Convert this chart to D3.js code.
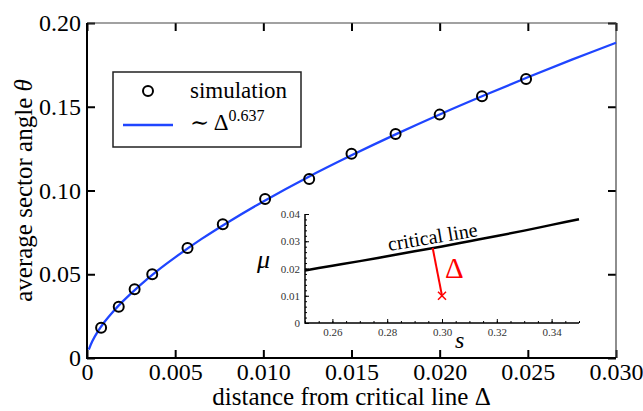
<!DOCTYPE html>
<html>
<head>
<meta charset="utf-8">
<script src="https://cdn.jsdelivr.net/npm/d3@7"></script>
<style>
	body { margin: 0; background: #fff; }
	svg text { font-family: "Liberation Serif", "Times New Roman", Times, Tinos, "Nimbus Roman", "Noto Serif", "DejaVu Serif", FreeSerif, serif; }
</style>
</head>
<body>
<div id="chart"></div>
<script>
// simulation points
var simDelta = [0.0008, 0.0018, 0.0027, 0.0037, 0.0057, 0.0077, 0.0101, 0.0126, 0.0150, 0.0175, 0.0200, 0.0224, 0.0249],
	simTheta = [0.0181, 0.0306, 0.0410, 0.0500, 0.0657, 0.0798, 0.0949, 0.1069, 0.1220, 0.1337, 0.1453, 0.1563, 0.1665];

// fitted curve ~ Delta^0.637
var fitDelta = [0.0001, 0.0003, 0.0006, 0.001, 0.0015, 0.002, 0.003, 0.004, 0.005, 0.0065, 0.008, 0.010, 0.0125, 0.015, 0.0175, 0.020, 0.0225, 0.025, 0.0275, 0.030],
	fitTheta = [0.0050, 0.0100, 0.0156, 0.0216, 0.0279, 0.0335, 0.0434, 0.0522, 0.0601, 0.0711, 0.0811, 0.0935, 0.1078, 0.1210, 0.1335, 0.1454, 0.1567, 0.1676, 0.1781, 0.1882];

var xTicks = [0, 0.005, 0.010, 0.015, 0.020, 0.025, 0.030],
	xTickLabels = ["0", "0.005", "0.010", "0.015", "0.020", "0.025", "0.030"],
	yTicks = [0, 0.05, 0.10, 0.15, 0.20],
	yTickLabels = ["0", "0.05", "0.10", "0.15", "0.20"];

// inset: critical line in (s, mu)
var critS = [0.25, 0.26, 0.27, 0.28, 0.29, 0.30, 0.31, 0.32, 0.33, 0.34, 0.35],
	critMu = [0.0193, 0.0210, 0.0227, 0.0245, 0.0263, 0.0281, 0.0300, 0.0319, 0.0339, 0.0360, 0.0381];
var deltaS = [0.2966, 0.30],
	deltaMu = [0.0275, 0.01];

var insetXTicks = [0.26, 0.28, 0.30, 0.32, 0.34],
	insetXTickLabels = ["0.26", "0.28", "0.30", "0.32", "0.34"],
	insetYTicks = [0, 0.01, 0.02, 0.03, 0.04],
	insetYTickLabels = ["0", "0.01", "0.02", "0.03", "0.04"];

var chartWidth = 643,
	chartHeight = 411,
	blue = "#1f45ff",
	serif = "'Liberation Serif', 'Times New Roman', Times, Tinos, 'Nimbus Roman', 'Noto Serif', 'DejaVu Serif', FreeSerif, serif";

var svg = d3.select("#chart")
	.append("svg")
	.attr("width", chartWidth)
	.attr("height", chartHeight)
	.attr("font-family", serif);

var x = d3.scaleLinear().domain([0, 0.03]).range([87, 616]),
	y = d3.scaleLinear().domain([0, 0.20]).range([358, 23]);

function styleAxis(g, fontSize, color) {
	g.attr("font-family", serif);
	g.select(".domain").remove();
	g.selectAll(".tick line").attr("stroke", "#000").attr("stroke-width", 2);
	g.selectAll(".tick text")
		.attr("fill", color)
		.style("font-size", fontSize + "px")
		.style("font-family", serif);
}

// main axes
svg.append("g")
	.attr("transform", "translate(0,358)")
	.call(d3.axisBottom(x).tickValues(xTicks).tickFormat(function(d, i) { return xTickLabels[i]; })
		.tickSizeInner(-8).tickSizeOuter(0).tickPadding(5))
	.call(styleAxis, 24, "#000");
svg.append("g")
	.attr("transform", "translate(87,0)")
	.call(d3.axisLeft(y).tickValues(yTicks).tickFormat(function(d, i) { return yTickLabels[i]; })
		.tickSizeInner(-8).tickSizeOuter(0).tickPadding(6))
	.call(styleAxis, 24, "#000");
svg.append("g")
	.attr("transform", "translate(0,23)")
	.call(d3.axisTop(x).tickValues(xTicks).tickFormat("").tickSizeInner(-8).tickSizeOuter(0))
	.call(styleAxis, 24, "#000");
svg.append("g")
	.attr("transform", "translate(616,0)")
	.call(d3.axisRight(y).tickValues(yTicks).tickFormat("").tickSizeInner(-8).tickSizeOuter(0))
	.call(styleAxis, 24, "#000");

// spines
svg.append("path")
	.attr("d", "M" + x(0) + "," + y(0.2) + "H" + x(0.03) + "V" + y(0))
	.attr("fill", "none").attr("stroke", "#444").attr("stroke-width", 1.2);
svg.append("path")
	.attr("d", "M" + x(0) + "," + y(0.2) + "V" + y(0) + "H" + x(0.03))
	.attr("fill", "none").attr("stroke", "#000").attr("stroke-width", 2);

// fit curve
var fitLine = d3.line()
	.x(function(d, i) { return x(fitDelta[i]); })
	.y(function(d, i) { return y(fitTheta[i]); })
	.curve(d3.curveCatmullRom);
svg.append("path")
	.datum(fitDelta)
	.attr("d", fitLine)
	.attr("fill", "none")
	.attr("stroke", blue)
	.attr("stroke-width", 2.3);

// simulation circles
svg.append("g").selectAll("circle")
	.data(simDelta)
	.enter()
	.append("circle")
	.attr("cx", function(d) { return x(d); })
	.attr("cy", function(d, i) { return y(simTheta[i]); })
	.attr("r", 5)
	.attr("fill", "none")
	.attr("stroke", "#000")
	.attr("stroke-width", 2);

// axis labels
svg.append("text")
	.attr("x", 351.5)
	.attr("y", 405)
	.attr("text-anchor", "middle")
	.style("font-size", "25px")
	.text("distance from critical line \u0394");
var yLabel = svg.append("text")
	.attr("transform", "translate(32,190.5) rotate(-90)")
	.attr("text-anchor", "middle")
	.style("font-size", "25px");
yLabel.append("tspan").text("average sector angle ");
yLabel.append("tspan").style("font-style", "italic").text("\u03b8");

// legend
var legend = svg.append("g");
legend.append("rect")
	.attr("x", 113).attr("y", 72)
	.attr("width", 188).attr("height", 75)
	.attr("fill", "#fff")
	.attr("stroke", "#222")
	.attr("stroke-width", 1.5);
legend.append("circle")
	.attr("cx", 148).attr("cy", 91).attr("r", 5)
	.attr("fill", "none").attr("stroke", "#000").attr("stroke-width", 2);
legend.append("line")
	.attr("x1", 123).attr("x2", 173)
	.attr("y1", 125).attr("y2", 125)
	.attr("stroke", blue).attr("stroke-width", 2.3);
legend.append("text")
	.attr("x", 190).attr("y", 98)
	.style("font-size", "23px")
	.text("simulation");
var fitLabel = legend.append("text")
	.attr("x", 190).attr("y", 130)
	.style("font-size", "23px");
fitLabel.append("tspan").text("\u223c \u0394");
fitLabel.append("tspan")
	.attr("dy", -9)
	.style("font-size", "16px")
	.text("0.637");

// inset
var xi = d3.scaleLinear().domain([0.25, 0.35]).range([305, 579]),
	yi = d3.scaleLinear().domain([0, 0.04]).range([323, 214]);
var inset = svg.append("g");

function styleInsetAxis(g) {
	g.attr("font-family", serif);
	g.select(".domain").remove();
	g.selectAll(".tick line").attr("stroke", "#000").attr("stroke-width", 1);
	g.selectAll(".tick text")
		.attr("fill", "#333")
		.style("font-size", "11px")
		.style("font-family", serif);
}

inset.append("g")
	.attr("transform", "translate(0,323)")
	.call(d3.axisBottom(xi).tickValues(xi.ticks(20)).tickFormat("").tickSizeInner(-2).tickSizeOuter(0))
	.call(styleInsetAxis);
inset.append("g")
	.attr("transform", "translate(0,323)")
	.call(d3.axisBottom(xi).tickValues(insetXTicks).tickFormat(function(d, i) { return insetXTickLabels[i]; })
		.tickSizeInner(-4).tickSizeOuter(0).tickPadding(5))
	.call(styleInsetAxis);
inset.append("g")
	.attr("transform", "translate(305,0)")
	.call(d3.axisLeft(yi).tickValues(yi.ticks(20)).tickFormat("").tickSizeInner(-2).tickSizeOuter(0))
	.call(styleInsetAxis);
inset.append("g")
	.attr("transform", "translate(305,0)")
	.call(d3.axisLeft(yi).tickValues(insetYTicks).tickFormat(function(d, i) { return insetYTickLabels[i]; })
		.tickSizeInner(-4).tickSizeOuter(0).tickPadding(5))
	.call(styleInsetAxis);
inset.append("path")
	.attr("d", "M" + xi(0.25) + "," + yi(0.04) + "V" + yi(0) + "H" + xi(0.35))
	.attr("fill", "none").attr("stroke", "#000").attr("stroke-width", 1.5);

var critLine = d3.line()
	.x(function(d, i) { return xi(critS[i]); })
	.y(function(d, i) { return yi(critMu[i]); })
	.curve(d3.curveMonotoneX);
inset.append("path")
	.datum(critS)
	.attr("d", critLine)
	.attr("fill", "none")
	.attr("stroke", "#000")
	.attr("stroke-width", 2.5);

inset.append("line")
	.attr("x1", xi(deltaS[0])).attr("y1", yi(deltaMu[0]))
	.attr("x2", xi(deltaS[1])).attr("y2", yi(deltaMu[1]))
	.attr("stroke", "#ff0000")
	.attr("stroke-width", 2);
var mx = xi(deltaS[1]), my = yi(deltaMu[1]);
inset.append("path")
	.attr("d", "M" + (mx - 4) + "," + (my - 4) + "L" + (mx + 4) + "," + (my + 4) +
		"M" + (mx - 4) + "," + (my + 4) + "L" + (mx + 4) + "," + (my - 4))
	.attr("stroke", "#ff0000")
	.attr("stroke-width", 1.5);

inset.append("text")
	.attr("x", 445).attr("y", 278)
	.attr("fill", "#ff0000")
	.style("font-size", "29px")
	.text("\u0394");
inset.append("text")
	.attr("transform", "translate(389,251) rotate(-9.5)")
	.style("font-size", "20px")
	.text("critical line");
inset.append("text")
	.attr("x", 257).attr("y", 268)
	.style("font-size", "26px")
	.style("font-style", "italic")
	.text("\u03bc");
inset.append("text")
	.attr("x", 455).attr("y", 348)
	.style("font-size", "24px")
	.style("font-style", "italic")
	.text("s");
</script>
</body>
</html>
